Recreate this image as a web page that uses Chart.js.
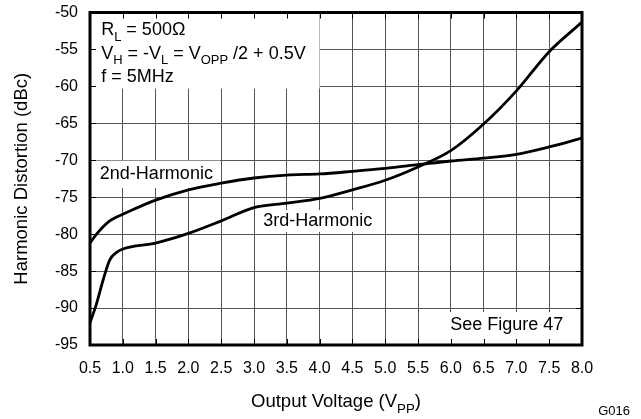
<!DOCTYPE html>
<html>
<head>
<meta charset="utf-8">
<script src="https://cdn.jsdelivr.net/npm/chart.js@4.4.1/dist/chart.umd.min.js"></script>
<style>
body { margin: 0; background: #fff; }
#wrap { width: 641px; height: 419px; }
</style>
</head>
<body>
<div id="wrap"><canvas id="hdChart"></canvas></div>
<script>
// output voltage (Vpp) and harmonic distortion (dBc)
const voltage = [0.5, 0.6, 0.7, 0.8, 0.9, 1.0, 1.5, 2.0, 2.5, 3.0, 3.5, 4.0, 4.5, 5.0, 5.5, 6.0, 6.5, 7.0, 7.5, 8.0];
const secondHarmonic = [-81.2, -80.0, -79.0, -78.2, -77.7, -77.3, -75.4, -74.0, -73.1, -72.4, -72.0, -71.85, -71.5, -71.1, -70.6, -70.1, -69.7, -69.2, -68.2, -67.0];
const thirdHarmonic = [-92.0, -89.4, -86.2, -83.5, -82.5, -82.0, -81.2, -79.9, -78.2, -76.4, -75.8, -75.15, -74.0, -72.7, -70.9, -68.7, -65.1, -60.6, -55.3, -51.3];

const FONT = '"Liberation Sans", Arial, sans-serif';

const toPoints = ys => voltage.map((v, i) => ({ x: v, y: ys[i] }));

// text parts: plain strings, or [string] for subscript
const notes = [
    { box: [0.5, 4.0, -50, -60.3], lines: [
        { x: 0.67, y: -53.1, parts: ['R', ['L'], ' = 500Ω'] },
        { x: 0.67, y: -56.3, parts: ['V', ['H'], ' = -V', ['L'], ' = V', ['OPP'], ' /2 + 0.5V'] },
        { x: 0.67, y: -59.4, parts: ['f = 5MHz'] }
    ] },
    { box: [0.53, 2.48, -70.05, -73.75], lines: [{ x: 0.65, y: -72.5, parts: ['2nd-Harmonic'] }] },
    { box: [3.06, 4.89, -76.75, -79.7], lines: [{ x: 3.14, y: -78.85, parts: ['3rd-Harmonic'] }] },
    { box: [5.91, 8.0, -90.55, -95], lines: [{ x: 5.99, y: -92.95, parts: ['See Figure 47'] }] }
];

function richWidth(ctx, parts, size) {
    let w = 0;
    parts.forEach(p => {
        const sub = Array.isArray(p);
        ctx.font = (sub ? size * 0.72 : size) + 'px ' + FONT;
        w += ctx.measureText(sub ? p[0] : p).width;
    });
    return w;
}

function richText(ctx, parts, x, y, size) {
    parts.forEach(p => {
        const sub = Array.isArray(p);
        const t = sub ? p[0] : p;
        ctx.font = (sub ? size * 0.72 : size) + 'px ' + FONT;
        ctx.fillText(t, x, y + (sub ? size * 0.3 : 0));
        x += ctx.measureText(t).width;
    });
}

const decorations = {
    id: 'decorations',
    beforeDatasetsDraw(chart) {
        const { ctx, scales: { x, y } } = chart;
        ctx.save();
        ctx.fillStyle = '#fff';
        notes.forEach(n => {
            const x0 = x.getPixelForValue(n.box[0]), x1 = x.getPixelForValue(n.box[1]);
            const y0 = y.getPixelForValue(n.box[2]), y1 = y.getPixelForValue(n.box[3]);
            ctx.fillRect(x0, y0, x1 - x0, y1 - y0);
        });
        ctx.restore();
    },
    afterDatasetsDraw(chart) {
        const { ctx, chartArea: a, scales: { x, y } } = chart;
        ctx.save();
        ctx.fillStyle = '#000';
        ctx.textBaseline = 'alphabetic';
        ctx.textAlign = 'left';
        notes.forEach(n => n.lines.forEach(l => {
            richText(ctx, l.parts, x.getPixelForValue(l.x), y.getPixelForValue(l.y), 18);
        }));

        // small inward ticks on all four sides
        ctx.strokeStyle = '#000';
        ctx.lineWidth = 1;
        ctx.beginPath();
        x.ticks.forEach(t => {
            const px = Math.round(x.getPixelForValue(t.value)) + 0.5;
            ctx.moveTo(px, a.top); ctx.lineTo(px, a.top + 6);
            ctx.moveTo(px, a.bottom); ctx.lineTo(px, a.bottom - 6);
        });
        y.ticks.forEach(t => {
            const py = Math.round(y.getPixelForValue(t.value)) + 0.5;
            ctx.moveTo(a.left, py); ctx.lineTo(a.left + 6, py);
            ctx.moveTo(a.right, py); ctx.lineTo(a.right - 6, py);
        });
        ctx.stroke();

        // frame
        ctx.lineWidth = 3;
        ctx.strokeRect(a.left, a.top, a.right - a.left, a.bottom - a.top);

        // axis titles
        const xParts = ['Output Voltage (V', ['PP'], ')'];
        const w = richWidth(ctx, xParts, 18.5);
        richText(ctx, xParts, (a.left + a.right) / 2 - w / 2, 407, 18.5);

        ctx.font = '18.5px ' + FONT;
        ctx.translate(27, (a.top + a.bottom) / 2);
        ctx.rotate(-Math.PI / 2);
        ctx.textAlign = 'center';
        ctx.fillText('Harmonic Distortion (dBc)', 0, 0);
        ctx.restore();

        ctx.save();
        ctx.font = '13px ' + FONT;
        ctx.fillStyle = '#000';
        ctx.textAlign = 'right';
        ctx.fillText('G016', chart.width - 11, chart.height - 4);
        ctx.restore();
    }
};

new Chart(document.getElementById('hdChart'), {
    type: 'line',
    data: {
        datasets: [
            { label: '2nd-Harmonic', data: toPoints(secondHarmonic) },
            { label: '3rd-Harmonic', data: toPoints(thirdHarmonic) }
        ]
    },
    options: {
        responsive: true,
        maintainAspectRatio: false,
        animation: false,
        layout: { padding: { top: 12.5, right: 59, left: 0, bottom: 0 } },
        elements: {
            line: { borderColor: '#000', borderWidth: 2.8, cubicInterpolationMode: 'monotone', fill: false },
            point: { radius: 0, hoverRadius: 0 }
        },
        plugins: { legend: { display: false }, tooltip: { enabled: false } },
        scales: {
            x: {
                type: 'linear',
                min: 0.5,
                max: 8.0,
                afterFit: s => { s.height = 74; s.paddingLeft = 0; s.paddingRight = 0; },
                ticks: {
                    stepSize: 0.5,
                    padding: 14,
                    color: '#000',
                    font: { family: FONT, size: 16 },
                    maxRotation: 0,
                    autoSkip: false,
                    callback: v => v.toFixed(1)
                },
                grid: { color: '#555', lineWidth: 1, drawTicks: false },
                border: { display: false }
            },
            y: {
                min: -95,
                max: -50,
                afterFit: s => { s.width = 90; s.paddingTop = 0; s.paddingBottom = 0; },
                ticks: {
                    stepSize: 5,
                    padding: 12,
                    color: '#000',
                    font: { family: FONT, size: 16 }
                },
                grid: { color: '#555', lineWidth: 1, drawTicks: false },
                border: { display: false }
            }
        }
    },
    plugins: [decorations]
});
</script>
</body>
</html>
